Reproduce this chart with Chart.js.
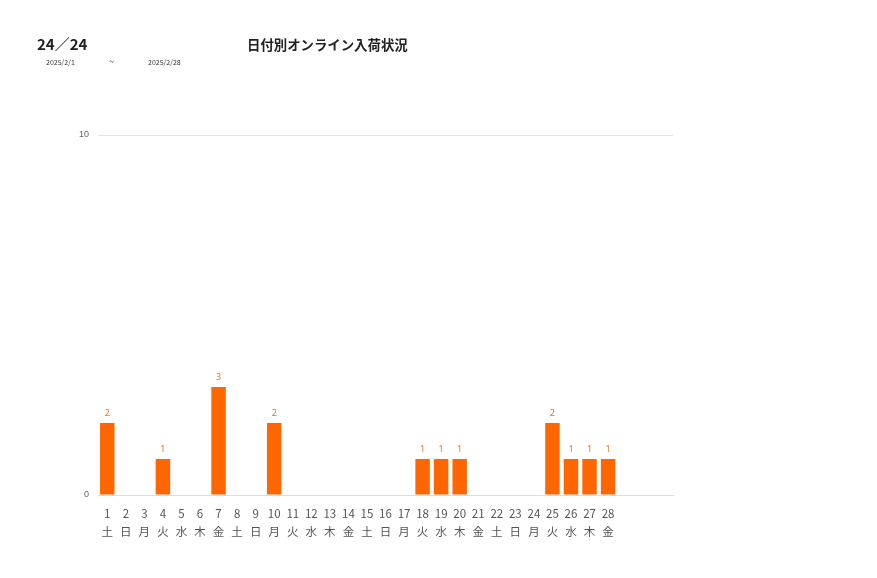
<!DOCTYPE html>
<html>
<head>
<meta charset="utf-8">
<script src="https://cdn.jsdelivr.net/npm/chart.js@4"></script>
<style>
  body { margin: 0; background: #fff; font-family: "Noto Sans CJK JP", "Noto Sans", sans-serif; }
  #wrap { position: relative; width: 877px; height: 578px; }
  #chart { position: absolute; left: 0; top: 0; }
  .t { position: absolute; color: #222; white-space: nowrap; }
  #count { left: 37px; top: 33px; font-size: 15px; font-weight: bold; }
  #title { left: 247px; top: 34px; font-size: 13.4px; font-weight: bold; }
  .d { top: 57px; font-size: 7px; color: #333; }
</style>
</head>
<body>
<div id="wrap">
  <canvas id="chart" width="877" height="578"></canvas>
  <div class="t" id="count">24／24</div>
  <div class="t" id="title">日付別オンライン入荷状況</div>
  <div class="t d" style="left:46px">2025/2/1</div>
  <div class="t d" style="left:109px; font-size:9px; top:55px">~</div>
  <div class="t d" style="left:148px">2025/2/28</div>
</div>
<script>
// Chart data
const days = ["1","2","3","4","5","6","7","8","9","10","11","12","13","14","15","16","17","18","19","20","21","22","23","24","25","26","27","28","","",""];
const weekdays = ["土","日","月","火","水","木","金","土","日","月","火","水","木","金","土","日","月","火","水","木","金","土","日","月","火","水","木","金","","",""];
const arrivals = [2,0,0,1,0,0,3,0,0,2,0,0,0,0,0,0,0,1,1,1,0,0,0,0,2,1,1,1,null,null,null];
const yTicks = [0, 10];

// value labels above the bars
const barLabels = {
    id: "barLabels",
    afterDatasetsDraw(chart) {
        const ctx = chart.ctx;
        const meta = chart.getDatasetMeta(0);
        ctx.save();
        ctx.font = "9px 'Noto Sans', sans-serif";
        ctx.fillStyle = "#E8731A";
        ctx.textAlign = "center";
        ctx.textBaseline = "bottom";
        meta.data.forEach(function (bar, i) {
            const v = arrivals[i];
            if (!v) return;
            ctx.fillText(v, bar.x, bar.y - 5);
        });
        ctx.restore();
    }
};

new Chart(document.getElementById("chart"), {
    type: "bar",
    data: {
        labels: days.map(function (d, i) { return [d, weekdays[i]]; }),
        datasets: [{
            data: arrivals,
            backgroundColor: "#FF6600",
            barPercentage: 0.78,
            categoryPercentage: 1
        }]
    },
    options: {
        responsive: false,
        animation: false,
        layout: { padding: { left: 68, right: 204, top: 135, bottom: 33 } },
        plugins: { legend: { display: false }, tooltip: { enabled: false } },
        scales: {
            x: {
                grid: { display: false },
                border: { color: "#dddddd" },
                ticks: {
                    color: "#555",
                    font: { size: 11.5, family: "'Noto Sans CJK JP', sans-serif", lineHeight: 1.6 },
                    maxRotation: 0,
                    autoSkip: false,
                    padding: 1
                },
                afterFit: function (scale) { scale.height = 50; }
            },
            y: {
                min: yTicks[0],
                max: yTicks[yTicks.length - 1],
                afterBuildTicks: function (scale) {
                    scale.ticks = yTicks.map(function (v) { return { value: v }; });
                },
                grid: { color: "#e4e4e4", drawTicks: false },
                border: { display: false },
                ticks: { color: "#666", font: { size: 9 }, padding: 9 },
                afterFit: function (scale) { scale.width = 30; }
            }
        }
    },
    plugins: [barLabels]
});
</script>
</body>
</html>
